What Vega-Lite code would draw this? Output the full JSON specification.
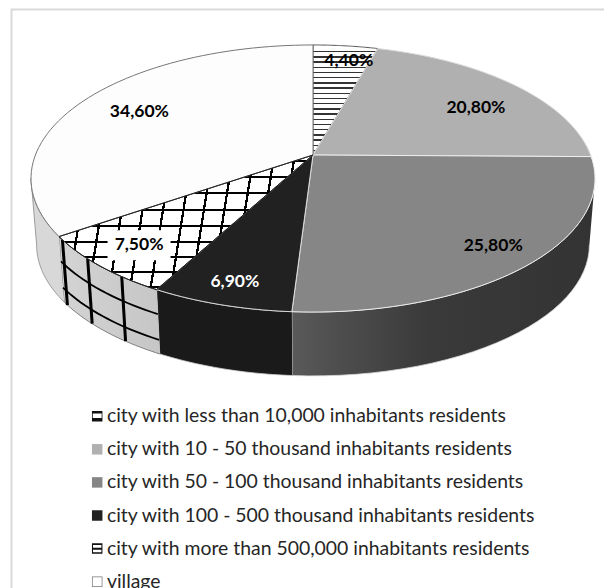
{
"$schema":"https://vega.github.io/schema/vega-lite/v6.json",
"width":604,"height":588,"padding":0,"autosize":{"type":"none"},
"background":"white",
"view":{"stroke":null},
"data":{"values":[
{"order":1,"slice":"city with less than 10,000 inhabitants residents","share":4.4},
{"order":2,"slice":"city with 10 - 50 thousand inhabitants residents","share":20.8},
{"order":3,"slice":"city with 50 - 100 thousand inhabitants residents","share":25.8},
{"order":4,"slice":"city with 100 - 500 thousand inhabitants residents","share":6.9},
{"order":5,"slice":"city with more than 500,000 inhabitants residents","share":7.5},
{"order":6,"slice":"village","share":34.6}
]},
"transform":[
{"window":[{"op":"sum","field":"share","as":"cum"}],"sort":[{"field":"order"}],"frame":[null,0]},
{"calculate":"(datum.cum-datum.share)*PI/50","as":"th0"},
{"calculate":"datum.cum*PI/50","as":"th1"}
],
"layer":[
{"data":{"values":[{}]},"transform":[],
"mark":{"type":"rect","fill":null,"stroke":"#d9d9d9","strokeWidth":2},
"encoding":{
"x":{"datum":-301.5,"type":"quantitative","scale":{"domain":[-313,291],"nice":false,"zero":false},"axis":null},
"x2":{"datum":320},
"y":{"datum":145.5,"type":"quantitative","scale":{"domain":[-433,155],"nice":false,"zero":false},"axis":null},
"y2":{"datum":-460}}},

{"transform":[
{"filter":"datum.order>=3"},
{"calculate":"sequence(0,62)","as":"k"},{"flatten":["k"]},
{"calculate":"datum.k<=30?datum.k/30:(61-datum.k)/30","as":"f"},
{"calculate":"clamp(datum.th0,1.747,4.536)+datum.f*(clamp(datum.th1,1.747,4.536)-clamp(datum.th0,1.747,4.536))","as":"th"},
{"calculate":"277.6*sin(datum.th)/(1+0.176*cos(datum.th))","as":"px"},
{"calculate":"129.4*cos(datum.th)/(1+0.176*cos(datum.th))","as":"py"},
{"calculate":"datum.k<=30?datum.px:datum.px*0.98","as":"X"},
{"calculate":"datum.k<=30?datum.py:datum.py*0.98-67","as":"Y"}
],
"mark":{"type":"line","filled":true,"strokeWidth":0.8,"interpolate":"linear"},
"encoding":{
"x":{"field":"X","type":"quantitative","scale":{"domain":[-313,291],"nice":false,"zero":false},"axis":null},
"y":{"field":"Y","type":"quantitative","scale":{"domain":[-433,155],"nice":false,"zero":false},"axis":null},
"order":{"field":"k"},
"detail":{"field":"slice"},
"stroke":{"condition":[{"test":"datum.order==3","value":"#d8d8d8"},{"test":"datum.order==4","value":"#d0d0d0"},{"test":"datum.order==5","value":"#666666"}],"value":"#888888"},
"fill":{"condition":[
{"test":"datum.order==3","value":{"gradient":"linear","x1":0,"y1":0,"x2":1,"y2":0,"stops":[{"offset":0,"color":"#5a5a5a"},{"offset":0.12,"color":"#505050"},{"offset":0.45,"color":"#3a3a3a"},{"offset":1,"color":"#333333"}]}},
{"test":"datum.order==4","value":"#1a1a1a"},
{"test":"datum.order==5","value":{"gradient":"linear","x1":0,"y1":0,"x2":1,"y2":0,"stops":[{"offset":0,"color":"#d4d4d4"},{"offset":1,"color":"#c6c6c6"}]}}
],"value":"#d8d8d8"}
}},

{"transform":[
{"filter":"datum.order==5"},
{"calculate":"[0.38,0.78]","as":"h"},{"flatten":["h"]},
{"calculate":"sequence(0,21)","as":"k"},{"flatten":["k"]},
{"calculate":"datum.th0+datum.k/20*(datum.th1-datum.th0)","as":"th"},
{"calculate":"277.6*sin(datum.th)/(1+0.176*cos(datum.th))","as":"px"},
{"calculate":"129.4*cos(datum.th)/(1+0.176*cos(datum.th))","as":"py"},
{"calculate":"datum.px*(1-0.02*datum.h)","as":"X"},
{"calculate":"datum.py*(1-0.02*datum.h)-67*datum.h","as":"Y"}
],
"mark":{"type":"line","stroke":"black","strokeWidth":1.8},
"encoding":{
"x":{"field":"X","type":"quantitative","scale":{"domain":[-313,291],"nice":false,"zero":false},"axis":null},
"y":{"field":"Y","type":"quantitative","scale":{"domain":[-433,155],"nice":false,"zero":false},"axis":null},
"order":{"field":"k"},"detail":{"field":"h"}}},

{"transform":[
{"filter":"datum.order==5"},
{"calculate":"[0.289,0.626,0.948]","as":"u"},{"flatten":["u"]},
{"calculate":"[0,1]","as":"h"},{"flatten":["h"]},
{"calculate":"datum.th0+datum.u*(datum.th1-datum.th0)","as":"th"},
{"calculate":"277.6*sin(datum.th)/(1+0.176*cos(datum.th))","as":"px"},
{"calculate":"129.4*cos(datum.th)/(1+0.176*cos(datum.th))","as":"py"},
{"calculate":"datum.px*(1-0.02*datum.h)","as":"X"},
{"calculate":"datum.py*(1-0.02*datum.h)-67*datum.h","as":"Y"}
],
"mark":{"type":"line","stroke":"black","strokeWidth":3},
"encoding":{
"x":{"field":"X","type":"quantitative","scale":{"domain":[-313,291],"nice":false,"zero":false},"axis":null},
"y":{"field":"Y","type":"quantitative","scale":{"domain":[-433,155],"nice":false,"zero":false},"axis":null},
"order":{"field":"h"},"detail":{"field":"u"}}},

{"transform":[
{"calculate":"sequence(0,62)","as":"k"},{"flatten":["k"]},
{"calculate":"datum.th0+(clamp(datum.k,1,60)-1)/59*(datum.th1-datum.th0)","as":"th"},
{"calculate":"(datum.k==0||datum.k==61)?0:1","as":"r"},
{"calculate":"277.6*datum.r*sin(datum.th)/(1+0.176*datum.r*cos(datum.th))","as":"X"},
{"calculate":"129.4*datum.r*cos(datum.th)/(1+0.176*datum.r*cos(datum.th))","as":"Y"}
],
"mark":{"type":"line","filled":true,"strokeWidth":1},
"encoding":{
"x":{"field":"X","type":"quantitative","scale":{"domain":[-313,291],"nice":false,"zero":false},"axis":null},
"y":{"field":"Y","type":"quantitative","scale":{"domain":[-433,155],"nice":false,"zero":false},"axis":null},
"order":{"field":"k"},
"detail":{"field":"slice"},
"stroke":{"condition":[{"test":"datum.order==1","value":"#555555"},{"test":"datum.order==2","value":"#dddddd"},{"test":"datum.order==3","value":"#eeeeee"},{"test":"datum.order==4","value":"#dddddd"},{"test":"datum.order==5","value":"#222222"}],"value":"#777777"},
"fill":{"condition":[
{"test":"datum.order==1","value":{"gradient":"linear","x1":0,"y1":0,"x2":0,"y2":1,"stops":[
{"offset":0.054,"color":"#fff"},{"offset":0.054,"color":"#333"},{"offset":0.068,"color":"#333"},{"offset":0.068,"color":"#fff"},
{"offset":0.101,"color":"#fff"},{"offset":0.101,"color":"#333"},{"offset":0.115,"color":"#333"},{"offset":0.115,"color":"#fff"},
{"offset":0.149,"color":"#fff"},{"offset":0.149,"color":"#333"},{"offset":0.163,"color":"#333"},{"offset":0.163,"color":"#fff"},
{"offset":0.196,"color":"#fff"},{"offset":0.196,"color":"#333"},{"offset":0.21,"color":"#333"},{"offset":0.21,"color":"#fff"},
{"offset":0.243,"color":"#fff"},{"offset":0.243,"color":"#333"},{"offset":0.257,"color":"#333"},{"offset":0.257,"color":"#fff"},
{"offset":0.29,"color":"#fff"},{"offset":0.29,"color":"#333"},{"offset":0.304,"color":"#333"},{"offset":0.304,"color":"#fff"},
{"offset":0.338,"color":"#fff"},{"offset":0.338,"color":"#333"},{"offset":0.352,"color":"#333"},{"offset":0.352,"color":"#fff"},
{"offset":0.385,"color":"#fff"},{"offset":0.385,"color":"#333"},{"offset":0.399,"color":"#333"},{"offset":0.399,"color":"#fff"},
{"offset":0.432,"color":"#fff"},{"offset":0.432,"color":"#333"},{"offset":0.446,"color":"#333"},{"offset":0.446,"color":"#fff"},
{"offset":0.48,"color":"#fff"},{"offset":0.48,"color":"#333"},{"offset":0.494,"color":"#333"},{"offset":0.494,"color":"#fff"},
{"offset":0.527,"color":"#fff"},{"offset":0.527,"color":"#333"},{"offset":0.541,"color":"#333"},{"offset":0.541,"color":"#fff"},
{"offset":0.574,"color":"#fff"},{"offset":0.574,"color":"#333"},{"offset":0.588,"color":"#333"},{"offset":0.588,"color":"#fff"},
{"offset":0.621,"color":"#fff"},{"offset":0.621,"color":"#333"},{"offset":0.635,"color":"#333"},{"offset":0.635,"color":"#fff"},
{"offset":0.669,"color":"#fff"},{"offset":0.669,"color":"#333"},{"offset":0.683,"color":"#333"},{"offset":0.683,"color":"#fff"},
{"offset":0.716,"color":"#fff"},{"offset":0.716,"color":"#333"},{"offset":0.73,"color":"#333"},{"offset":0.73,"color":"#fff"},
{"offset":0.763,"color":"#fff"},{"offset":0.763,"color":"#333"},{"offset":0.777,"color":"#333"},{"offset":0.777,"color":"#fff"},
{"offset":0.81,"color":"#fff"},{"offset":0.81,"color":"#333"},{"offset":0.824,"color":"#333"},{"offset":0.824,"color":"#fff"},
{"offset":0.858,"color":"#fff"},{"offset":0.858,"color":"#333"},{"offset":0.872,"color":"#333"},{"offset":0.872,"color":"#fff"},
{"offset":0.905,"color":"#fff"},{"offset":0.905,"color":"#333"},{"offset":0.919,"color":"#333"},{"offset":0.919,"color":"#fff"},
{"offset":0.952,"color":"#fff"},{"offset":0.952,"color":"#333"},{"offset":0.966,"color":"#333"},{"offset":0.966,"color":"#fff"}
]}},
{"test":"datum.order==2","value":"#b0b0b0"},
{"test":"datum.order==3","value":"#868686"},
{"test":"datum.order==4","value":"#212121"},
{"test":"datum.order==5","value":{"gradient":"linear","x1":0,"y1":0,"x2":0,"y2":1,"stops":[
{"offset":0.037,"color":"#fff"},{"offset":0.037,"color":"#000"},{"offset":0.051,"color":"#000"},{"offset":0.051,"color":"#fff"},
{"offset":0.156,"color":"#fff"},{"offset":0.156,"color":"#000"},{"offset":0.170,"color":"#000"},{"offset":0.170,"color":"#fff"},
{"offset":0.274,"color":"#fff"},{"offset":0.274,"color":"#000"},{"offset":0.288,"color":"#000"},{"offset":0.288,"color":"#fff"},
{"offset":0.400,"color":"#fff"},{"offset":0.400,"color":"#000"},{"offset":0.414,"color":"#000"},{"offset":0.414,"color":"#fff"},
{"offset":0.519,"color":"#fff"},{"offset":0.519,"color":"#000"},{"offset":0.533,"color":"#000"},{"offset":0.533,"color":"#fff"},
{"offset":0.637,"color":"#fff"},{"offset":0.637,"color":"#000"},{"offset":0.651,"color":"#000"},{"offset":0.651,"color":"#fff"},
{"offset":0.749,"color":"#fff"},{"offset":0.749,"color":"#000"},{"offset":0.763,"color":"#000"},{"offset":0.763,"color":"#fff"},
{"offset":0.860,"color":"#fff"},{"offset":0.860,"color":"#000"},{"offset":0.874,"color":"#000"},{"offset":0.874,"color":"#fff"},
{"offset":0.971,"color":"#fff"},{"offset":0.971,"color":"#000"},{"offset":0.985,"color":"#000"},{"offset":0.985,"color":"#fff"}
]}}
],"value":"#fdfdfd"}
}},

{"transform":[
{"filter":"datum.order==5"},
{"calculate":"sequence(0,62)","as":"k"},{"flatten":["k"]},
{"calculate":"datum.th0+(clamp(datum.k,1,60)-1)/59*(datum.th1-datum.th0)","as":"th"},
{"calculate":"(datum.k==0||datum.k==61)?0:1","as":"r"},
{"calculate":"277.6*datum.r*sin(datum.th)/(1+0.176*datum.r*cos(datum.th))","as":"X"},
{"calculate":"129.4*datum.r*cos(datum.th)/(1+0.176*datum.r*cos(datum.th))","as":"Y"}
],
"mark":{"type":"line","filled":true,"stroke":"#222222","strokeWidth":1,
"fill":{"gradient":"linear","x1":0,"y1":0,"x2":1,"y2":0.0841,"stops":[
{"offset":0.035,"color":"rgba(0,0,0,0)"},{"offset":0.035,"color":"#000"},{"offset":0.044,"color":"#000"},{"offset":0.044,"color":"rgba(0,0,0,0)"},
{"offset":0.115,"color":"rgba(0,0,0,0)"},{"offset":0.115,"color":"#000"},{"offset":0.124,"color":"#000"},{"offset":0.124,"color":"rgba(0,0,0,0)"},
{"offset":0.195,"color":"rgba(0,0,0,0)"},{"offset":0.195,"color":"#000"},{"offset":0.204,"color":"#000"},{"offset":0.204,"color":"rgba(0,0,0,0)"},
{"offset":0.275,"color":"rgba(0,0,0,0)"},{"offset":0.275,"color":"#000"},{"offset":0.284,"color":"#000"},{"offset":0.284,"color":"rgba(0,0,0,0)"},
{"offset":0.356,"color":"rgba(0,0,0,0)"},{"offset":0.356,"color":"#000"},{"offset":0.365,"color":"#000"},{"offset":0.365,"color":"rgba(0,0,0,0)"},
{"offset":0.436,"color":"rgba(0,0,0,0)"},{"offset":0.436,"color":"#000"},{"offset":0.445,"color":"#000"},{"offset":0.445,"color":"rgba(0,0,0,0)"},
{"offset":0.516,"color":"rgba(0,0,0,0)"},{"offset":0.516,"color":"#000"},{"offset":0.525,"color":"#000"},{"offset":0.525,"color":"rgba(0,0,0,0)"},
{"offset":0.596,"color":"rgba(0,0,0,0)"},{"offset":0.596,"color":"#000"},{"offset":0.605,"color":"#000"},{"offset":0.605,"color":"rgba(0,0,0,0)"},
{"offset":0.676,"color":"rgba(0,0,0,0)"},{"offset":0.676,"color":"#000"},{"offset":0.685,"color":"#000"},{"offset":0.685,"color":"rgba(0,0,0,0)"},
{"offset":0.757,"color":"rgba(0,0,0,0)"},{"offset":0.757,"color":"#000"},{"offset":0.766,"color":"#000"},{"offset":0.766,"color":"rgba(0,0,0,0)"},
{"offset":0.837,"color":"rgba(0,0,0,0)"},{"offset":0.837,"color":"#000"},{"offset":0.846,"color":"#000"},{"offset":0.846,"color":"rgba(0,0,0,0)"},
{"offset":0.917,"color":"rgba(0,0,0,0)"},{"offset":0.917,"color":"#000"},{"offset":0.926,"color":"#000"},{"offset":0.926,"color":"rgba(0,0,0,0)"}
]}},
"encoding":{
"x":{"field":"X","type":"quantitative","scale":{"domain":[-313,291],"nice":false,"zero":false},"axis":null},
"y":{"field":"Y","type":"quantitative","scale":{"domain":[-433,155],"nice":false,"zero":false},"axis":null},
"order":{"field":"k"}}},

{"transform":[
{"calculate":"(datum.th0+datum.th1)/2+[2.1,4.7,0,0,0,0][datum.order-1]*PI/180","as":"thm"},
{"calculate":"[0.85,0.74,0.85,0.87,0.835,0.75][datum.order-1]","as":"r"},
{"calculate":"277.6*datum.r*sin(datum.thm)/(1+0.176*datum.r*cos(datum.thm))","as":"X"},
{"calculate":"129.4*datum.r*cos(datum.thm)/(1+0.176*datum.r*cos(datum.thm))","as":"Y"},
{"filter":"datum.order==5"}
],
"mark":{"type":"rect","fill":"white","width":63,"height":30},
"encoding":{
"x":{"field":"X","type":"quantitative","scale":{"domain":[-313,291],"nice":false,"zero":false},"axis":null},
"y":{"field":"Y","type":"quantitative","scale":{"domain":[-433,155],"nice":false,"zero":false},"axis":null}}},

{"transform":[
{"calculate":"(datum.th0+datum.th1)/2+[2.1,4.7,0,0,0,0][datum.order-1]*PI/180","as":"thm"},
{"calculate":"[0.85,0.74,0.85,0.87,0.835,0.75][datum.order-1]","as":"r"},
{"calculate":"277.6*datum.r*sin(datum.thm)/(1+0.176*datum.r*cos(datum.thm))","as":"X"},
{"calculate":"129.4*datum.r*cos(datum.thm)/(1+0.176*datum.r*cos(datum.thm))","as":"Y"},
{"calculate":"replace(format(datum.share,'.2f'),'.',',')+'%'","as":"label"}
],
"mark":{"type":"text","font":"Lato","fontWeight":"bold","fontSize":17.5,"align":"center","baseline":"middle"},
"encoding":{
"x":{"field":"X","type":"quantitative","scale":{"domain":[-313,291],"nice":false,"zero":false},"axis":null},
"y":{"field":"Y","type":"quantitative","scale":{"domain":[-433,155],"nice":false,"zero":false},"axis":null},
"text":{"field":"label"},
"color":{"condition":{"test":"datum.order==4","value":"white"},"value":"black"}}},

{"mark":{"type":"point","filled":true,"size":0,"opacity":0},
"encoding":{
"x":{"datum":0,"type":"quantitative","scale":{"domain":[-313,291],"nice":false,"zero":false},"axis":null},
"y":{"datum":0,"type":"quantitative","scale":{"domain":[-433,155],"nice":false,"zero":false},"axis":null},
"shape":{"field":"slice","type":"nominal",
"scale":{"domain":["city with less than 10,000 inhabitants residents","city with 10 - 50 thousand inhabitants residents","city with 50 - 100 thousand inhabitants residents","city with 100 - 500 thousand inhabitants residents","city with more than 500,000 inhabitants residents","village"],
"range":[
"M-1,-1H1V-0.5H-1ZM-1,0.35H1V1H-1ZM-1,-1H-0.85V1H-1ZM0.85,-1H1V1H0.85Z",
"M-1,-1H1V1H-1Z","M-1,-1H1V1H-1Z","M-1,-1H1V1H-1Z",
"M-1,-1H1V-0.7H-1ZM-1,-0.15H1V0.2H-1ZM-1,0.7H1V1H-1ZM-1,-1H-0.8V1H-1ZM0.8,-1H1V1H0.8Z",
"M-1,-1H1V-0.86H-1ZM-1,0.86H1V1H-1ZM-1,-1H-0.86V1H-1ZM0.86,-1H1V1H0.86Z"]},
"legend":{"orient":"none","legendX":87.5,"legendY":406.5,"title":null,"symbolSize":110,"symbolOpacity":1,"labelFont":"Lato","labelFontSize":19.4,"labelColor":"#262626","labelLimit":600,"labelOffset":0,"rowPadding":12.1}},
"fill":{"field":"slice","type":"nominal",
"scale":{"domain":["city with less than 10,000 inhabitants residents","city with 10 - 50 thousand inhabitants residents","city with 50 - 100 thousand inhabitants residents","city with 100 - 500 thousand inhabitants residents","city with more than 500,000 inhabitants residents","village"],"range":["#111111","#b0b0b0","#868686","#212121","#111111","#777777"]},
"legend":{"orient":"none","legendX":87.5,"legendY":406.5,"title":null,"symbolSize":110,"symbolOpacity":1,"labelFont":"Lato","labelFontSize":19.4,"labelColor":"#262626","labelLimit":600,"labelOffset":0,"rowPadding":12.1}
}}}
]
}
